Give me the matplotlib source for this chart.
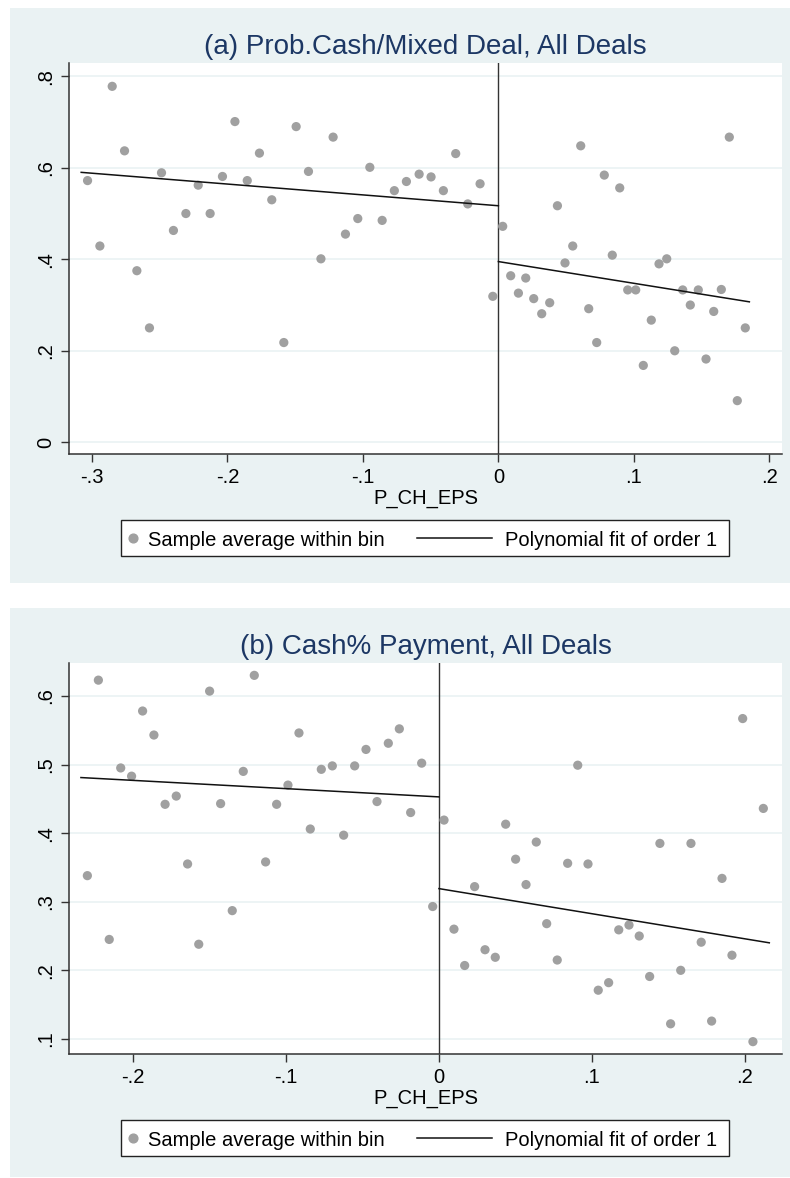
import numpy as np
import matplotlib.pyplot as plt
from matplotlib.patches import Rectangle
from matplotlib.lines import Line2D

plt.rcParams['font.family'] = ['Liberation Sans', 'DejaVu Sans']

# ---- panel (a): Prob. Cash/Mixed Deal ----
a_x = [-0.3033, -0.2942, -0.2851, -0.2760, -0.2669, -0.2576, -0.2487, -0.2399, -0.2307, -0.2216,
       -0.2128, -0.2037, -0.1945, -0.1854, -0.1764, -0.1673, -0.1584, -0.1493, -0.1402, -0.1310,
       -0.1220, -0.1129, -0.1038, -0.0949, -0.0858, -0.0768, -0.0679, -0.0585, -0.0497, -0.0406,
       -0.0315, -0.0226, -0.0135, -0.0041,
       0.0032, 0.0091, 0.0148, 0.0202, 0.0261, 0.0320, 0.0379, 0.0436, 0.0492, 0.0549,
       0.0608, 0.0667, 0.0726, 0.0782, 0.0841, 0.0896, 0.0955, 0.1014, 0.1070, 0.1129,
       0.1186, 0.1243, 0.1302, 0.1361, 0.1417, 0.1476, 0.1533, 0.1590, 0.1646, 0.1705,
       0.1764, 0.1823]
a_y = [0.572, 0.429, 0.778, 0.637, 0.375, 0.250, 0.589, 0.463, 0.500, 0.562,
       0.500, 0.581, 0.701, 0.572, 0.632, 0.530, 0.218, 0.690, 0.592, 0.401,
       0.667, 0.455, 0.489, 0.601, 0.485, 0.550, 0.570, 0.586, 0.580, 0.550,
       0.631, 0.521, 0.565, 0.319,
       0.472, 0.364, 0.326, 0.359, 0.314, 0.281, 0.305, 0.517, 0.392, 0.429,
       0.648, 0.292, 0.218, 0.584, 0.409, 0.556, 0.333, 0.333, 0.168, 0.267,
       0.390, 0.401, 0.200, 0.333, 0.300, 0.333, 0.182, 0.286, 0.334, 0.667,
       0.091, 0.250]
# linear fits: (intercept, slope, x_start, x_end)
a_fit_left = (0.517, -0.237, -0.308, 0.0)
a_fit_right = (0.395, -0.475, 0.0, 0.1853)
a_xticks = [-0.3, -0.2, -0.1, 0.0, 0.1, 0.2]
a_xticklabels = ['-.3', '-.2', '-.1', '0', '.1', '.2']
a_yticks = [0.0, 0.2, 0.4, 0.6, 0.8]
a_yticklabels = ['0', '.2', '.4', '.6', '.8']

# ---- panel (b): Cash% Payment ----
b_x = [-0.2298, -0.2226, -0.2155, -0.2080, -0.2009, -0.1937, -0.1863, -0.1790, -0.1717, -0.1643,
       -0.1570, -0.1499, -0.1427, -0.1351, -0.1279, -0.1207, -0.1133, -0.1061, -0.0987, -0.0915,
       -0.0841, -0.0769, -0.0697, -0.0623, -0.0551, -0.0477, -0.0405, -0.0331, -0.0259, -0.0185,
       -0.0113, -0.0041,
       0.0033, 0.0098, 0.0168, 0.0233, 0.0301, 0.0368, 0.0436, 0.0501, 0.0569, 0.0636,
       0.0704, 0.0773, 0.0841, 0.0907, 0.0974, 0.1041, 0.1109, 0.1175, 0.1242, 0.1309,
       0.1377, 0.1444, 0.1514, 0.1580, 0.1647, 0.1714, 0.1782, 0.1850, 0.1915, 0.1985,
       0.2052, 0.2120]
b_y = [0.338, 0.623, 0.245, 0.495, 0.483, 0.578, 0.543, 0.442, 0.454, 0.355,
       0.238, 0.607, 0.443, 0.287, 0.490, 0.630, 0.358, 0.442, 0.470, 0.546,
       0.406, 0.493, 0.498, 0.397, 0.498, 0.522, 0.446, 0.531, 0.552, 0.430,
       0.502, 0.293,
       0.419, 0.260, 0.207, 0.322, 0.230, 0.219, 0.413, 0.362, 0.325, 0.387,
       0.268, 0.215, 0.356, 0.499, 0.355, 0.171, 0.182, 0.259, 0.266, 0.250,
       0.191, 0.385, 0.122, 0.200, 0.385, 0.241, 0.126, 0.334, 0.222, 0.567,
       0.096, 0.436]
b_fit_left = (0.4528, -0.1205, -0.234, 0.0)
b_fit_right = (0.3191, -0.366, 0.0, 0.2159)
b_xticks = [-0.2, -0.1, 0.0, 0.1, 0.2]
b_xticklabels = ['-.2', '-.1', '0', '.1', '.2']
b_yticks = [0.1, 0.2, 0.3, 0.4, 0.5, 0.6]
b_yticklabels = ['.1', '.2', '.3', '.4', '.5', '.6']

legend_labels = ['Sample average within bin', 'Polynomial fit of order 1']

BG = '#eaf2f3'
TITLE_C = '#1c3764'
MARK_C = '#a0a0a0'
LINE_C = '#111111'
FS = 14.5

W, H = 790, 1178
fig = plt.figure(figsize=(W / 100, H / 100), dpi=100)


def fx(x):
    return x / W


def fy(y):
    return 1 - y / H


def px(x0, y0, x1, y1):
    # pixel box (top-left origin) -> figure fraction [l, b, w, h]
    return [x0 / W, 1 - y1 / H, (x1 - x0) / W, (y1 - y0) / H]


def legend_box(y0, y1):
    # Stata-style legend: white box, marker + text, line + text
    l, b, w, h = px(121, y0, 729, y1)
    fig.patches.append(Rectangle((l, b), w, h, transform=fig.transFigure,
                                 facecolor='white', edgecolor='#222222', lw=1.0, zorder=2))
    ym = fy((y0 + y1) / 2)
    fig.add_artist(Line2D([fx(133)], [ym], marker='o', ls='none', color=MARK_C,
                          markersize=6.3, transform=fig.transFigure, zorder=3))
    fig.text(fx(148), ym, legend_labels[0], ha='left', va='center_baseline',
             fontsize=FS, zorder=3)
    fig.add_artist(Line2D([fx(417), fx(492)], [ym, ym], color=LINE_C, lw=1.1,
                          transform=fig.transFigure, zorder=3))
    fig.text(fx(505), ym, legend_labels[1], ha='left', va='center_baseline',
             fontsize=FS, zorder=3)


def panel(bg_box, ax_box, title, title_y, xlab_y, leg_y,
          xs, ys, fl, fr, xt, xtl, yt, ytl, xlim, ylim):
    l, b, w, h = px(*bg_box)
    fig.patches.append(Rectangle((l, b), w, h, transform=fig.transFigure,
                                 facecolor=BG, edgecolor='none', zorder=-10))
    ax = fig.add_axes(px(*ax_box))
    ax.set_facecolor('white')
    ax.scatter(xs, ys, s=44, color=MARK_C, edgecolor='none', zorder=3)
    for c, s, x0, x1 in (fl, fr):
        xx = np.array([x0, x1])
        ax.plot(xx, c + s * xx, color=LINE_C, lw=1.1, zorder=4)
    ax.axvline(0, color='#333333', lw=1.0, zorder=2)
    ax.set_xlim(*xlim)
    ax.set_ylim(*ylim)
    ax.set_xticks(xt)
    ax.set_xticklabels(xtl)
    ax.set_yticks(yt)
    ax.set_yticklabels(ytl, rotation=90, va='center')
    ax.grid(axis='y', color=BG, lw=1.2, zorder=1)
    ax.set_axisbelow(True)
    for sp in ('top', 'right'):
        ax.spines[sp].set_visible(False)
    for sp in ('left', 'bottom'):
        ax.spines[sp].set_color('#333333')
        ax.spines[sp].set_linewidth(1.1)
    ax.tick_params(direction='out', length=6, width=1, color='#333333',
                   labelsize=FS, pad=4)
    cx = (ax_box[0] + ax_box[2]) / 2 / W
    fig.text(cx, fy(title_y), title, ha='center', va='center',
             fontsize=20, color=TITLE_C)
    fig.text(cx, fy(xlab_y), 'P_CH_EPS', ha='center', va='center',
             fontsize=FS, color='black')
    legend_box(leg_y - 18, leg_y + 18)
    return ax


panel((10, 8, 790, 583), (69, 63, 782, 454), '(a) Prob.Cash/Mixed Deal, All Deals',
      47, 498, 538, a_x, a_y, a_fit_left, a_fit_right,
      a_xticks, a_xticklabels, a_yticks, a_yticklabels,
      (-0.317, 0.2094), (-0.0256, 0.829))

panel((10, 608, 790, 1177), (69, 663, 782, 1054), '(b) Cash% Payment, All Deals',
      647, 1098, 1138, b_x, b_y, b_fit_left, b_fit_right,
      b_xticks, b_xticklabels, b_yticks, b_yticklabels,
      (-0.2418, 0.2242), (0.078, 0.648))

fig.savefig('out.png', dpi=100)
